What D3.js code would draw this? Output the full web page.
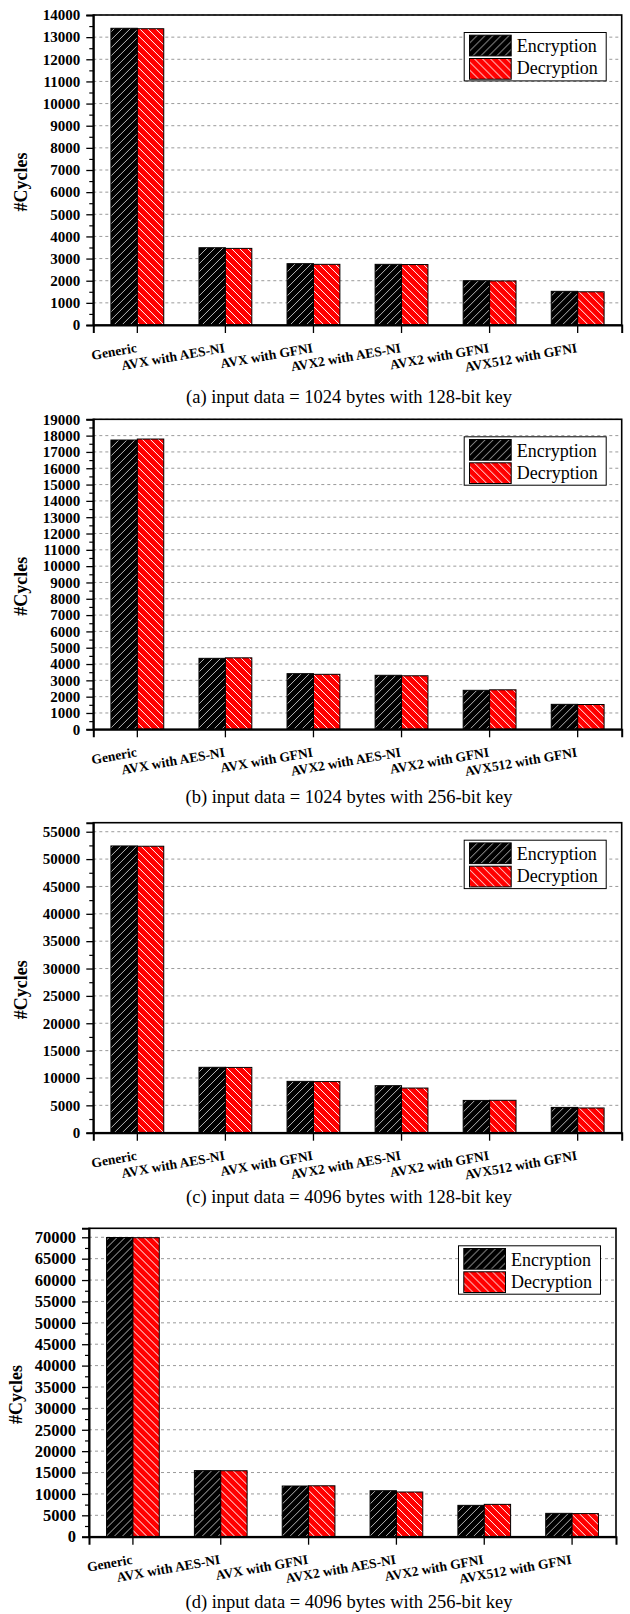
<!DOCTYPE html>
<html>
<head>
<meta charset="utf-8">
<script src="https://cdn.jsdelivr.net/npm/d3@7"></script>
<style>
  body { margin: 0; background: #fff; }
  svg { display: block; }
  text { font-family: "Liberation Serif", "Times New Roman", serif; }
</style>
</head>
<body>
<svg id="chart" width="630" height="1614"></svg>
<script>
// Implementations compared in every panel
const categories = ["Generic", "AVX with AES-NI", "AVX with GFNI", "AVX2 with AES-NI", "AVX2 with GFNI", "AVX512 with GFNI"];
const seriesNames = ["Encryption", "Decryption"];
const captions = [
  "(a) input data = 1024 bytes with 128-bit key",
  "(b) input data = 1024 bytes with 256-bit key",
  "(c) input data = 4096 bytes with 128-bit key",
  "(d) input data = 4096 bytes with 256-bit key"
];

// Cycle counts, one array per panel and direction
const enc1024k128 = [13400, 3490, 2770, 2740, 2000, 1520];
const dec1024k128 = [13380, 3460, 2740, 2730, 1990, 1500];
const enc1024k256 = [17730, 4350, 3410, 3310, 2390, 1530];
const dec1024k256 = [17790, 4380, 3370, 3280, 2420, 1520];
const enc4096k128 = [52400, 11950, 9380, 8590, 5900, 4620];
const dec4096k128 = [52350, 11930, 9340, 8160, 5920, 4520];
const enc4096k256 = [69950, 15450, 11850, 10750, 7330, 5460];
const dec4096k256 = [69900, 15420, 11900, 10450, 7560, 5400];

// Y axis extent and major tick step per panel
const yMaxes = [14000, 19000, 56650, 72100];
const tickSteps = [1000, 1000, 5000, 5000];

const seriesByPanel = [
  [enc1024k128, dec1024k128],
  [enc1024k256, dec1024k256],
  [enc4096k128, dec4096k128],
  [enc4096k256, dec4096k256]
];

// Plot-frame geometry of each panel
const frames = [
  { top: 15,    bottom: 325,    left: 93.3, right: 621.7, tickFont: 15,   capGap: 78 },
  { top: 419.3, bottom: 729.3,  left: 93.3, right: 621.7, tickFont: 15,   capGap: 73.5 },
  { top: 822.7, bottom: 1132.7, left: 93.3, right: 621.7, tickFont: 15,   capGap: 70.5 },
  { top: 1228.3, bottom: 1536.7, left: 89,  right: 616,   tickFont: 16.5, capGap: 71.5 }
];

const svg = d3.select("#chart");

// Hatch fills: black with light "/" lines, red with white "\" lines
const defs = svg.append("defs");
const encPat = defs.append("pattern").attr("id", "hatchEnc")
  .attr("patternUnits", "userSpaceOnUse").attr("width", 8).attr("height", 8);
encPat.append("rect").attr("width", 8).attr("height", 8).attr("fill", "#000");
encPat.append("path").attr("d", "M-2,2 L2,-2 M0,8 L8,0 M6,10 L10,6")
  .attr("stroke", "#c8c8c8").attr("stroke-width", 0.9);
const decPat = defs.append("pattern").attr("id", "hatchDec")
  .attr("patternUnits", "userSpaceOnUse").attr("width", 8).attr("height", 8);
decPat.append("rect").attr("width", 8).attr("height", 8).attr("fill", "#ff0000");
decPat.append("path").attr("d", "M-2,6 L2,10 M0,0 L8,8 M6,-2 L10,2")
  .attr("stroke", "#fff").attr("stroke-width", 1);
const fills = ["url(#hatchEnc)", "url(#hatchDec)"];

frames.forEach((f, p) => {
  const g = svg.append("g");
  const x = d3.scaleBand().domain(categories).range([f.left, f.right]).paddingInner(0).paddingOuter(0);
  const bw = x.bandwidth();
  const xs = d3.scaleBand().domain(seriesNames).range([0, bw * 0.6]);
  const y = d3.scaleLinear().domain([0, yMaxes[p]]).range([f.bottom, f.top]);

  const step = tickSteps[p];
  const majors = d3.range(0, yMaxes[p] + 1, step);
  const minors = d3.range(step / 2, yMaxes[p], step);

  // dashed grid at major ticks
  g.append("g").selectAll("line").data(majors.filter(v => v > 0)).join("line")
    .attr("x1", f.left).attr("x2", f.right)
    .attr("y1", d => y(d)).attr("y2", d => y(d))
    .attr("stroke", "#9a9a9a").attr("stroke-width", 1).attr("stroke-dasharray", "3,3");

  // bars
  const series = seriesByPanel[p];
  const grp = g.append("g").selectAll("g").data(categories).join("g")
    .attr("transform", d => `translate(${x(d) + bw * 0.2},0)`);
  grp.selectAll("rect").data((c, i) => seriesNames.map((s, k) => ({ s, k, v: series[k][i] })))
    .join("rect")
    .attr("x", d => xs(d.s)).attr("width", xs.bandwidth())
    .attr("y", d => y(d.v)).attr("height", d => y(0) - y(d.v))
    .attr("fill", d => fills[d.k])
    .attr("stroke", "#000").attr("stroke-width", 1);

  // frame
  g.append("rect").attr("x", f.left).attr("y", f.top)
    .attr("width", f.right - f.left).attr("height", f.bottom - f.top)
    .attr("fill", "none").attr("stroke", "#000").attr("stroke-width", 1.6);

  // y axis: majors with labels, minors unlabeled
  const yAxis = g.append("g").attr("transform", `translate(${f.left},0)`)
    .call(d3.axisLeft(y).tickValues(majors).tickSize(7).tickPadding(6).tickFormat(d3.format("d")));
  yAxis.select(".domain").attr("stroke-width", 2);
  yAxis.selectAll(".tick line").attr("stroke-width", 1.3);
  yAxis.selectAll(".tick text")
    .attr("font-family", '"Liberation Serif", serif').attr("font-weight", "bold")
    .attr("font-size", f.tickFont).attr("fill", "#000");
  const yMinor = g.append("g").attr("transform", `translate(${f.left},0)`)
    .call(d3.axisLeft(y).tickValues(minors).tickSize(4).tickFormat(""));
  yMinor.select(".domain").remove();
  yMinor.selectAll(".tick line").attr("stroke-width", 1.2);

  // x axis ticks
  const xAxis = g.append("g").attr("transform", `translate(0,${f.bottom})`)
    .call(d3.axisBottom(x).tickSize(8).tickFormat(""));
  xAxis.select(".domain").attr("stroke-width", 2);
  xAxis.selectAll(".tick line").attr("stroke-width", 1.3);

  // slanted category labels, ending at each tick
  g.append("g").selectAll("text").data(categories).join("text")
    .attr("transform", d => `translate(${x(d) + bw / 2},${f.bottom + 27}) rotate(-10)`)
    .attr("text-anchor", "end")
    .attr("font-weight", "bold").attr("font-size", 13.5)
    .text(d => d);

  // y title
  g.append("text")
    .attr("transform", `translate(${f.left - (p === 3 ? 67.5 : 66)},${(f.top + f.bottom) / 2 + 12}) rotate(-90)`)
    .attr("text-anchor", "middle").attr("font-weight", "bold").attr("font-size", 18)
    .text("#Cycles");

  // legend
  const lw = 142, lh = 48.4;
  const lx = f.right - 15.5 - lw, ly = f.top + 17.5;
  const lg = g.append("g").attr("transform", `translate(${lx},${ly})`);
  lg.append("rect").attr("width", lw).attr("height", lh)
    .attr("fill", "#fff").attr("stroke", "#000").attr("stroke-width", 1);
  seriesNames.forEach((s, k) => {
    lg.append("rect").attr("x", 5.3).attr("y", 2.7 + k * 23.3)
      .attr("width", 41.7).attr("height", 20.7)
      .attr("fill", fills[k]).attr("stroke", "#000").attr("stroke-width", 1);
    lg.append("text").attr("x", 52.5).attr("y", 19.8 + k * 22)
      .attr("font-size", 18).text(s);
  });

  // caption
  svg.append("text").attr("x", 349).attr("y", f.bottom + f.capGap)
    .attr("text-anchor", "middle").attr("font-size", 18.5)
    .text(captions[p]);
});
</script>
</body>
</html>
